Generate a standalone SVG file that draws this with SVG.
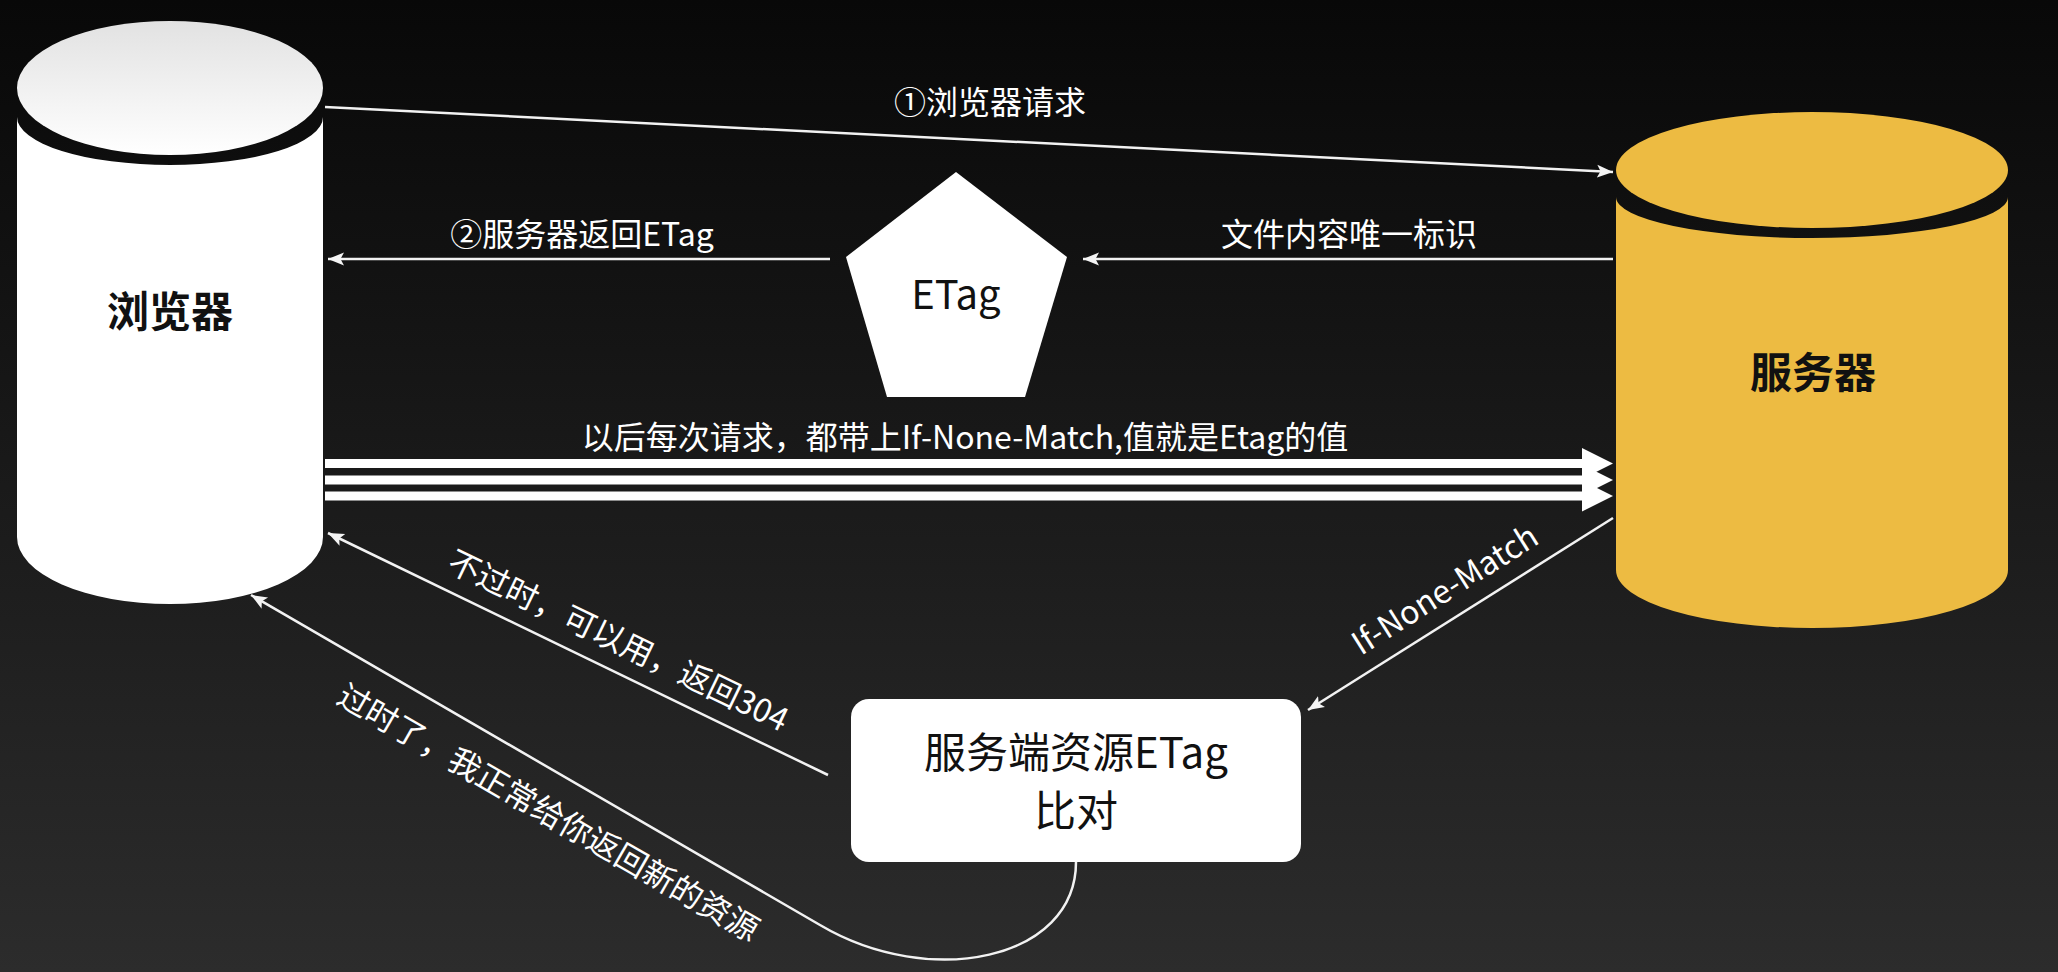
<svg xmlns="http://www.w3.org/2000/svg" width="2058" height="972" viewBox="0 0 2058 972">
<defs>
<linearGradient id="bg" x1="0" y1="0" x2="0" y2="1">
<stop offset="0" stop-color="#080808"/>
<stop offset="1" stop-color="#2c2c2c"/>
</linearGradient>
<linearGradient id="topw" x1="0" y1="0" x2="0" y2="1">
<stop offset="0" stop-color="#e2e2e2"/>
<stop offset="1" stop-color="#ffffff"/>
</linearGradient>
<marker id="ah" markerUnits="userSpaceOnUse" markerWidth="20" markerHeight="16" refX="16" refY="8" orient="auto">
<path d="M0,1.5 L16,8 L0,14.5 L3.5,8 z" fill="#f4f4f4"/>
</marker>
</defs>
<style>
.lbl{font-family:"Noto Sans CJK SC","Noto Sans",sans-serif;font-size:32px;fill:#ffffff;text-anchor:middle}
.big{font-family:"Noto Sans CJK SC","Noto Sans",sans-serif;font-size:42px;font-weight:bold;fill:#111;text-anchor:middle}
.box{font-family:"Noto Sans CJK SC","Noto Sans",sans-serif;font-size:42px;fill:#111;text-anchor:middle}
.ln{fill:none;stroke:#f2f2f2;stroke-width:2.5;marker-end:url(#ah)}
.thick{stroke:#ffffff;stroke-width:9}
</style>
<rect x="0" y="0" width="2058" height="972" fill="url(#bg)"/>

<g id="browser">
<path d="M17,117 L17,537 A153,67 0 0 0 323,537 L323,117 A153,48 0 0 1 17,117 Z" fill="#ffffff"/>
<ellipse cx="170" cy="88" rx="153" ry="67" fill="url(#topw)"/>
<text class="big" x="170" y="327">浏览器</text>
</g>

<g id="server">
<path d="M1616,197 L1616,570 A196,58 0 0 0 2008,570 L2008,197 A196,41 0 0 1 1616,197 Z" fill="#edbb42"/>
<ellipse cx="1812" cy="170" rx="196" ry="58" fill="#edbb42"/>
<text class="big" x="1813" y="388">服务器</text>
</g>

<g id="etag">
<polygon points="956,172 1067,257 1025,397 887,397 846,257" fill="#ffffff"/>
<text class="box" x="956" y="309" style="font-size:40px">ETag</text>
</g>

<g id="compare">
<rect x="851" y="699" width="450" height="163" rx="18" fill="#ffffff"/>
<text class="box" x="1076" y="768">服务端资源ETag</text>
<text class="box" x="1076" y="826">比对</text>
</g>

<g id="connectors">
<line class="ln" x1="325" y1="107" x2="1613" y2="172"/>
<line class="ln" x1="830" y1="259" x2="328" y2="259"/>
<line class="ln" x1="1613" y1="259" x2="1083" y2="259"/>
<line class="thick" x1="325" y1="463.5" x2="1590" y2="463.5"/>
<line class="thick" x1="325" y1="480" x2="1590" y2="480"/>
<line class="thick" x1="325" y1="496" x2="1590" y2="496"/>
<polygon points="1582,448 1613,463.5 1582,479" fill="#ffffff"/>
<polygon points="1582,464.5 1613,480 1582,495.5" fill="#ffffff"/>
<polygon points="1582,480.5 1613,496 1582,511.5" fill="#ffffff"/>
<line class="ln" x1="1613" y1="518" x2="1308" y2="710"/>
<line class="ln" x1="828" y1="775" x2="328" y2="533"/>
<path class="ln" d="M1076,862 C1076,960 930,990 820,925 L251,595"/>
</g>

<g id="labels">
<text class="lbl" x="990" y="114">①浏览器请求</text>
<text class="lbl" x="582" y="246">②服务器返回ETag</text>
<text class="lbl" x="1349" y="246">文件内容唯一标识</text>
<text class="lbl" x="965" y="449">以后每次请求，都带上If-None-Match,值就是Etag的值</text>
<text class="lbl" transform="translate(1445,590) rotate(-32.2)" x="0" y="11">If-None-Match</text>
<text class="lbl" transform="translate(618,641) rotate(25.8)" x="0" y="11">不过时，可以用，返回304</text>
<text class="lbl" transform="translate(548,813) rotate(30)" x="0" y="11">过时了，我正常给你返回新的资源</text>
</g>
</svg>
